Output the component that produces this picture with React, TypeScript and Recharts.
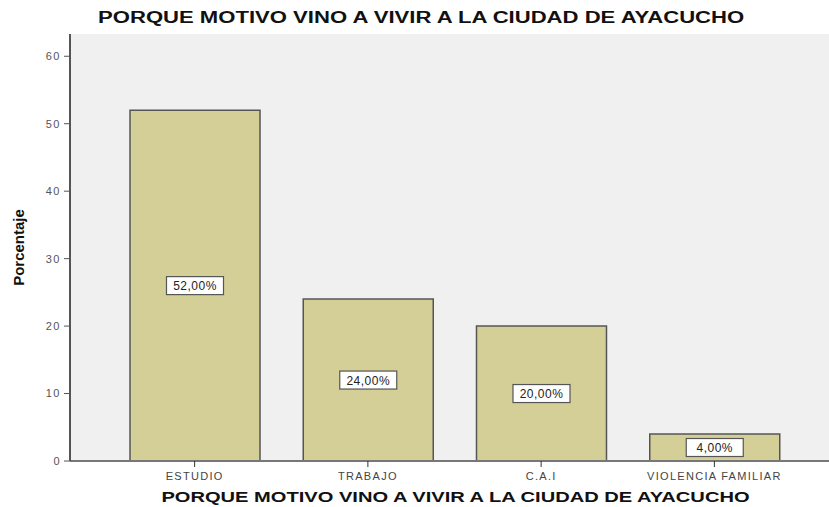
import { Bar, BarChart, CartesianGrid, LabelList, XAxis, YAxis } from "recharts";

const categories = ["ESTUDIO", "TRABAJO", "C.A.I", "VIOLENCIA FAMILIAR"];
const percentages = [52, 24, 20, 4];
const yTicks = [0, 10, 20, 30, 40, 50, 60];

const data = categories.map((name, i) => ({ name, value: percentages[i] }));

const TITLE = "PORQUE MOTIVO VINO A VIVIR A LA CIUDAD DE AYACUCHO";
const FONT = "Arial, 'Liberation Sans', sans-serif";

function BoxLabel(props: any) {
  const { x, y, width, height, value } = props;
  const cx = x + width / 2;
  const cy = y + height / 2;
  const text = `${value.toFixed(2).replace(".", ",")}%`;
  const w = 57;
  const h = 18;
  return (
    <g>
      <rect x={cx - w / 2} y={cy - h / 2} width={w} height={h} fill="#fff" stroke="#555" strokeWidth={1.2} />
      <text x={cx} y={cy + 4.5} textAnchor="middle" fontSize={12} letterSpacing={0.5} fill="#222" fontFamily={FONT}>
        {text}
      </text>
    </g>
  );
}

export default function App() {
  return (
    <div style={{ position: "absolute", left: 0, top: 0, width: 829, height: 507, background: "#fff", fontFamily: FONT }}>
      <div style={{ position: "absolute", left: 0, width: 842, top: 9, textAlign: "center" }}>
        <span style={{ display: "inline-block", transform: "scaleX(1.38)", fontWeight: "bold", fontSize: 16, color: "#111" }}>
          {TITLE}
        </span>
      </div>
      <BarChart width={829} height={507} data={data} margin={{ top: 34, right: 0, left: 0, bottom: 0 }}>
        <CartesianGrid fill="#f0f0f0" horizontal={false} vertical={false} />
        <XAxis
          xAxisId="top"
          orientation="top"
          dataKey="name"
          height={0}
          tick={false}
          tickLine={false}
          axisLine={{ stroke: "#666", strokeWidth: 2 }}
          padding={{ left: 38, right: 28 }}
        />
        <XAxis
          dataKey="name"
          padding={{ left: 38, right: 28 }}
          axisLine={{ stroke: "#777", strokeWidth: 2 }}
          tickLine={{ stroke: "#333" }}
          tickSize={6}
          tickMargin={5}
          tick={{ fontSize: 11, fill: "#444", letterSpacing: 1.3 }}
          height={46}
        />
        <YAxis
          domain={[0, 63.3]}
          ticks={yTicks}
          width={70}
          axisLine={{ stroke: "#555", strokeWidth: 2 }}
          tickLine={{ stroke: "#555" }}
          tickSize={6}
          tickMargin={3}
          tick={{ fontSize: 11, fill: "#555", letterSpacing: 1.5 }}
          label={{ value: "Porcentaje", angle: -90, position: "insideLeft", offset: 19, style: { fontSize: 15, fontWeight: "bold", fill: "#111", textAnchor: "middle" } }}
        />
        <Bar dataKey="value" fill="#d4cf97" stroke="#555" strokeWidth={1.5} barSize={130} isAnimationActive={false}>
          <LabelList dataKey="value" content={BoxLabel} />
        </Bar>
      </BarChart>
      <div style={{ position: "absolute", left: 0, width: 910, top: 488, textAlign: "center" }}>
        <span style={{ display: "inline-block", transform: "scaleX(1.34)", fontWeight: "bold", fontSize: 15, color: "#111" }}>
          {TITLE}
        </span>
      </div>
    </div>
  );
}
